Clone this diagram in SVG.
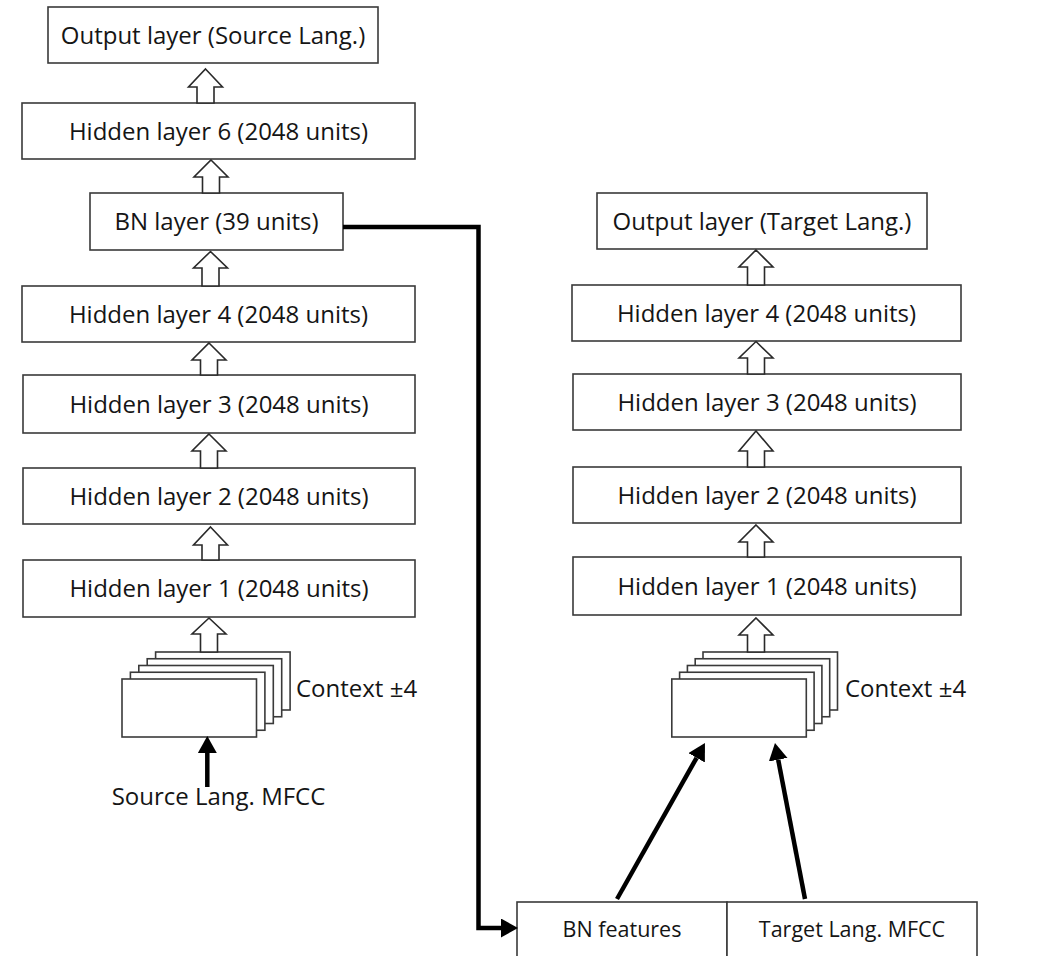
<svg xmlns="http://www.w3.org/2000/svg" width="1044" height="956" viewBox="0 0 1044 956">
<style>
  .box { fill: #ffffff; stroke: #3a3a3a; stroke-width: 1.6; }
  .lbl { font-family: "Open Sans", "Noto Sans", sans-serif; font-size: 24px; fill: #151515; text-anchor: middle; }
  .lbl2 { font-family: "Open Sans", "Noto Sans", sans-serif; font-size: 21.5px; fill: #151515; text-anchor: middle; }
  .ctx { font-family: "Open Sans", "Noto Sans", sans-serif; font-size: 24px; fill: #151515; }
  .blk { fill: #ffffff; stroke: #2a2a2a; stroke-width: 1.6; stroke-linejoin: miter; }
  .thick { fill: none; stroke: #000000; stroke-width: 4.5; }
</style>
<defs>
  <marker id="head" markerUnits="userSpaceOnUse" markerWidth="18" markerHeight="20" refX="0" refY="9.5" orient="auto">
    <path d="M0,0 L17,9.5 L0,19 Z" fill="#000000"/>
  </marker>
</defs>
<rect width="1044" height="956" fill="#ffffff"/>

<!-- Left network -->
<g id="out-src"><rect class="box" x="48" y="7" width="330" height="56"/><text class="lbl" x="213" y="43.5">Output layer (Source Lang.)</text></g>
<g id="hl6-src"><rect class="box" x="22" y="103" width="393" height="56"/><text class="lbl" x="218.5" y="139.5">Hidden layer 6 (2048 units)</text></g>
<g id="bn-src"><rect class="box" x="90" y="193" width="253" height="57"/><text class="lbl" x="216.5" y="230">BN layer (39 units)</text></g>
<g id="hl4-src"><rect class="box" x="22" y="286" width="393" height="56"/><text class="lbl" x="218.5" y="322.5">Hidden layer 4 (2048 units)</text></g>
<g id="hl3-src"><rect class="box" x="23" y="375" width="392" height="58"/><text class="lbl" x="219" y="412.5">Hidden layer 3 (2048 units)</text></g>
<g id="hl2-src"><rect class="box" x="23" y="468" width="392" height="56"/><text class="lbl" x="219" y="504.5">Hidden layer 2 (2048 units)</text></g>
<g id="hl1-src"><rect class="box" x="23" y="560" width="392" height="57"/><text class="lbl" x="219" y="597">Hidden layer 1 (2048 units)</text></g>
<g id="ctx-src">
  <rect class="box" x="155.6" y="652" width="134.5" height="58"/>
  <rect class="box" x="147.2" y="658.75" width="134.5" height="58"/>
  <rect class="box" x="138.8" y="665.5" width="134.5" height="58"/>
  <rect class="box" x="130.4" y="672.25" width="134.5" height="58"/>
  <rect class="box" x="122" y="679" width="134.5" height="58"/>
  <text class="ctx" x="296" y="697">Context ±4</text>
</g>
<g id="src-mfcc"><text class="lbl" x="218.5" y="805">Source Lang. MFCC</text></g>

<!-- Right network -->
<g id="out-tgt"><rect class="box" x="597" y="193" width="330" height="56"/><text class="lbl" x="762" y="229.5">Output layer (Target Lang.)</text></g>
<g id="hl4-tgt"><rect class="box" x="572" y="285" width="389" height="56"/><text class="lbl" x="766.5" y="321.5">Hidden layer 4 (2048 units)</text></g>
<g id="hl3-tgt"><rect class="box" x="573" y="374" width="388" height="56"/><text class="lbl" x="767" y="410.5">Hidden layer 3 (2048 units)</text></g>
<g id="hl2-tgt"><rect class="box" x="573" y="467" width="388" height="56"/><text class="lbl" x="767" y="503.5">Hidden layer 2 (2048 units)</text></g>
<g id="hl1-tgt"><rect class="box" x="573" y="557" width="388" height="58"/><text class="lbl" x="767" y="594.5">Hidden layer 1 (2048 units)</text></g>
<g id="ctx-tgt">
  <rect class="box" x="703" y="652" width="134.5" height="58"/>
  <rect class="box" x="695.2" y="658.75" width="134.5" height="58"/>
  <rect class="box" x="687.4" y="665.5" width="134.5" height="58"/>
  <rect class="box" x="679.6" y="672.25" width="134.5" height="58"/>
  <rect class="box" x="671.8" y="679" width="134.5" height="58"/>
  <text class="ctx" x="845" y="697">Context ±4</text>
</g>
<g id="bn-features"><rect class="box" x="517" y="902" width="210" height="62"/><text class="lbl2" x="622" y="937">BN features</text></g>
<g id="tgt-mfcc"><rect class="box" x="727" y="902" width="250" height="62"/><text class="lbl2" x="852" y="937">Target Lang. MFCC</text></g>

<!-- Connectors -->
<g id="connectors">
  <!-- left block arrows -->
  <path class="blk" d="M205.5,69 L222.5,87 L214,87 L214,103 L197,103 L197,87 L188.5,87 Z"/>
  <path class="blk" d="M211,160 L228,177 L219.5,177 L219.5,193 L202.5,193 L202.5,177 L194,177 Z"/>
  <path class="blk" d="M210.5,251.5 L227.5,268 L219,268 L219,286 L202,286 L202,268 L193.5,268 Z"/>
  <path class="blk" d="M209,343 L226,360 L217.5,360 L217.5,375 L200.5,375 L200.5,360 L192,360 Z"/>
  <path class="blk" d="M209,434 L226,451 L217.5,451 L217.5,468 L200.5,468 L200.5,451 L192,451 Z"/>
  <path class="blk" d="M210.5,527 L227.5,545 L219,545 L219,560 L202,560 L202,545 L193.5,545 Z"/>
  <path class="blk" d="M209,618 L226,634 L217.5,634 L217.5,652 L200.5,652 L200.5,634 L192,634 Z"/>
  <!-- right block arrows -->
  <path class="blk" d="M756,250 L773,267 L764.5,267 L764.5,285 L747.5,285 L747.5,267 L739,267 Z"/>
  <path class="blk" d="M756,341.5 L773,358 L764.5,358 L764.5,374 L747.5,374 L747.5,358 L739,358 Z"/>
  <path class="blk" d="M756,431 L773,451 L764.5,451 L764.5,467 L747.5,467 L747.5,451 L739,451 Z"/>
  <path class="blk" d="M756,525 L773,542 L764.5,542 L764.5,557 L747.5,557 L747.5,542 L739,542 Z"/>
  <path class="blk" d="M756,618 L773,635 L764.5,635 L764.5,652 L747.5,652 L747.5,635 L739,635 Z"/>
  <!-- thick arrows -->
  <line class="thick" x1="207.3" y1="787" x2="207.3" y2="753" marker-end="url(#head)"/>
  <polyline class="thick" points="343,227 478.5,227 478.5,928 501,928" stroke-linejoin="miter" marker-end="url(#head)"/>
  <line class="thick" x1="617" y1="899" x2="696.6" y2="757.8" marker-end="url(#head)"/>
  <line class="thick" x1="805" y1="899" x2="778.2" y2="759.7" marker-end="url(#head)"/>
</g>
</svg>
